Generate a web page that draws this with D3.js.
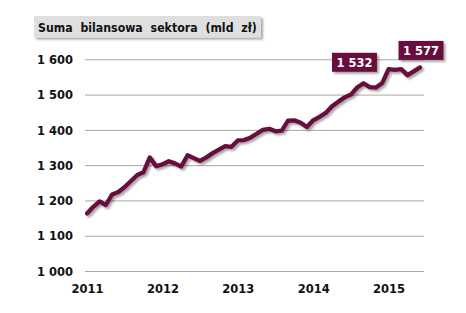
<!DOCTYPE html>
<html>
<head>
<meta charset="utf-8">
<script src="https://d3js.org/d3.v7.min.js"></script>
<style>
  body { margin: 0; background: #fff; }
  svg text { font-family: "DejaVu Sans", Verdana, sans-serif; font-weight: bold; }
</style>
</head>
<body>
<div class="wykres"></div>
<script>
"use strict";

// dane: suma bilansowa sektora, miesiecznie od 01.2011 do 06.2015 (mld zl)
var miesiace = d3.range(54); // 0 = styczen 2011
var wartosci = [
  1163, 1182, 1197, 1187, 1217, 1224, 1238, 1255, 1272, 1280, 1322, 1297,
  1302, 1311, 1305, 1296, 1328, 1320, 1312, 1322, 1334, 1344, 1354, 1352,
  1370, 1371, 1378, 1389, 1400, 1403, 1396, 1398, 1426, 1427, 1420, 1408,
  1427, 1437, 1448, 1467, 1480, 1492, 1500, 1520, 1532, 1521, 1520, 1533,
  1572, 1570, 1572, 1555, 1566, 1577
];
var lata = ["2011", "2012", "2013", "2014", "2015"];
var ticksY = [1000, 1100, 1200, 1300, 1400, 1500, 1600];
var etykiety = [44, 53]; // indeksy punktow z etykieta wartosci
var tytul = "Suma bilansowa sektora (mld zł)";

var larg = 466, haut = 313;
var kolor = "#670f3c";
var rozciag = 1.13; // tekst w oryginale jest lekko rozciagniety w pionie

var pl = d3.formatLocale({decimal: ",", thousands: "\u00a0", grouping: [3], currency: ["", ""]});
var fmt = pl.format(",");

var svg = d3.select(".wykres").append("svg")
  .attr("width", larg)
  .attr("height", haut);

var defs = svg.append("defs");
defs.append("filter").attr("id", "cien")
  .attr("x", "-10%").attr("y", "-10%").attr("width", "130%").attr("height", "140%")
  .append("feDropShadow")
    .attr("dx", 2).attr("dy", 2).attr("stdDeviation", 1.3)
    .attr("flood-color", "#000").attr("flood-opacity", 0.35);

var x = d3.scaleLinear().domain([0, 53]).range([87, 420]);
var y = d3.scaleLinear().domain([1000, 1600]).range([271, 59.3]);

// rozciaganie tekstu osi wokol jego punktu zaczepienia
function rozciagnij(sel){
  sel.each(function(){
    var el = d3.select(this);
    var tx = +el.attr("x") || 0, ty = +el.attr("y") || 0;
    el.attr("x", 0).attr("y", 0)
      .attr("transform", "translate(" + tx + "," + ty + ") scale(1," + rozciag + ")");
  });
}

// siatka + etykiety osi Y
var osY = svg.append("g")
  .attr("transform", "translate(424,0)")
  .call(d3.axisLeft(y).tickValues(ticksY).tickSize(339).tickPadding(12).tickFormat(fmt));
osY.select(".domain").remove();
osY.selectAll(".tick line").attr("stroke", "#a6a6a6");
osY.selectAll(".tick text").attr("font-size", "11.5px").attr("fill", "#111")
  .attr("font-family", null).call(rozciagnij);

// os X
var osX = svg.append("g")
  .attr("transform", "translate(0,271)")
  .call(d3.axisBottom(x).tickValues([0, 12, 24, 36, 48]).tickSize(0).tickPadding(13)
    .tickFormat(function(d){ return lata[d / 12]; }));
osX.select(".domain").remove();
osX.selectAll(".tick text").attr("font-size", "11.5px").attr("fill", "#111")
  .attr("font-family", null).call(rozciagnij);

// linia
var linia = d3.line()
  .x(function(d){ return x(d); })
  .y(function(d){ return y(wartosci[d]); });

svg.append("path")
  .datum(miesiace)
  .attr("d", linia)
  .attr("fill", "none")
  .attr("stroke", kolor)
  .attr("stroke-width", 4.3)
  .attr("stroke-linejoin", "round")
  .attr("stroke-linecap", "round")
  .attr("filter", "url(#cien)");

// etykiety wartosci
var przes = {44: [-9, -21], 53: [1, -17]};
etykiety.forEach(function(i){
  var cx = x(i) + przes[i][0], cy = y(wartosci[i]) + przes[i][1];
  var g = svg.append("g").attr("transform", "translate(" + cx + "," + cy + ")");
  g.append("rect")
    .attr("x", -22.5).attr("y", -9.5)
    .attr("width", 45).attr("height", 19)
    .attr("fill", kolor)
    .attr("filter", "url(#cien)");
  g.append("text")
    .attr("text-anchor", "middle")
    .attr("transform", "translate(0,4.6) scale(1," + rozciag + ")")
    .attr("font-size", "11.5px")
    .attr("fill", "#fff")
    .text(fmt(wartosci[i]));
});

// tytul
var t = svg.append("g");
t.append("rect")
  .attr("x", 34).attr("y", 16)
  .attr("width", 227).attr("height", 21.5)
  .attr("fill", "#dfdfdf")
  .attr("filter", "url(#cien)");
t.append("text")
  .attr("transform", "translate(38,31.5) scale(1,1.16)")
  .attr("font-size", "11px")
  .attr("word-spacing", "4px")
  .attr("fill", "#111")
  .text(tytul);
</script>
</body>
</html>
